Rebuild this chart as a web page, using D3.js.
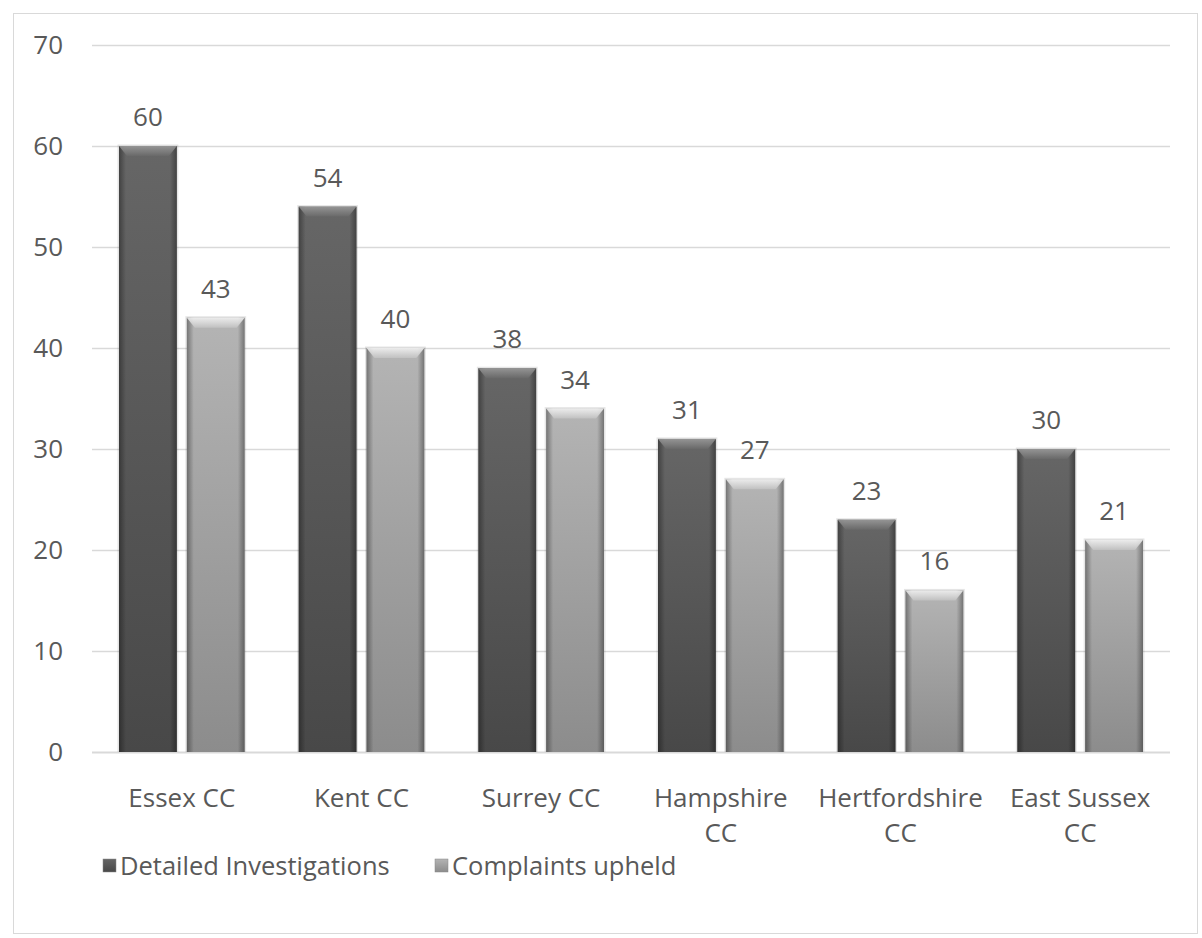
<!DOCTYPE html>
<html><head><meta charset="utf-8">
<script src="https://cdn.jsdelivr.net/npm/d3@7"></script>
<style>body{margin:0;background:#fff}text{font-family:"Open Sans",sans-serif;fill:#595959}</style>
</head><body><svg id="c" width="1202" height="938"></svg>
<script>
const categories = [["Essex CC"],["Kent CC"],["Surrey CC"],["Hampshire","CC"],["Hertfordshire","CC"],["East Sussex","CC"]];
const seriesNames = ["Detailed Investigations","Complaints upheld"];
const detailed = [60,54,38,31,23,30];
const upheld = [43,40,34,27,16,21];
const yTicks = [0,10,20,30,40,50,60,70];

const svg = d3.select("#c");
const defs = svg.append("defs");
function grad(id, top, bot){
  const g = defs.append("linearGradient").attr("id",id).attr("x1",0).attr("y1",0).attr("x2",0).attr("y2",1);
  g.append("stop").attr("offset","0%").attr("stop-color",top);
  g.append("stop").attr("offset","100%").attr("stop-color",bot);
}
grad("gd","#666","#484848");
grad("gl","#b4b4b4","#8c8c8c");
grad("bd","#a0a0a0","#6a6a6a");
grad("bl","#fafafa","#c4c4c4");
const hs = defs.append("linearGradient").attr("id","hs").attr("x1",0).attr("y1",0).attr("x2",1).attr("y2",0);
[[0,0.35],[0.12,0],[0.88,0],[1,0.35]].forEach(([o,a])=>hs.append("stop").attr("offset",o).attr("stop-color","#000").attr("stop-opacity",a));

svg.append("rect").attr("x",13.5).attr("y",13.5).attr("width",1184).attr("height",920)
  .attr("fill","#fff").attr("stroke","#d9d9d9");

const x0 = d3.scaleBand().domain(d3.range(categories.length)).range([92,1170]);
const x1 = d3.scaleBand().domain([0,1]).range([27,x0.bandwidth()-27]).paddingInner(0.147);
const y = d3.scaleLinear().domain([0,70]).range([752,45]);

const gridG = svg.append("g");
yTicks.forEach(t=>{
  gridG.append("line").attr("x1",92).attr("x2",1170).attr("y1",Math.round(y(t))+0.5).attr("y2",Math.round(y(t))+0.5)
    .attr("stroke","#d9d9d9").attr("stroke-width",t===0?2:1.3);
  gridG.append("text").attr("x",63).attr("y",y(t)).attr("dy","0.36em").attr("text-anchor","end")
    .attr("font-size",26).text(t);
});

const series = [detailed, upheld];
const fills = ["url(#gd)","url(#gl)"];
const tops = ["url(#bd)","url(#bl)"];
series.forEach((vals,si)=>{
  const g = svg.append("g");
  vals.forEach((v,i)=>{
    const bx = x0(i)+x1(si), bw = x1.bandwidth(), by = y(v), bh = y(0)-y(v);
    g.append("rect").attr("x",bx-1.5).attr("y",by-1.5).attr("width",bw+3).attr("height",bh+1.5).attr("fill","#000").attr("opacity",0.1);
    g.append("rect").attr("x",bx).attr("y",by).attr("width",bw).attr("height",bh).attr("fill",fills[si]);
    g.append("rect").attr("x",bx).attr("y",by).attr("width",bw).attr("height",bh).attr("fill","url(#hs)");
    g.append("path").attr("d",`M${bx},${by}L${bx+bw},${by}L${bx+bw-8},${by+10}L${bx+8},${by+10}Z`)
      .attr("fill",tops[si]).attr("opacity",0.8);
    g.append("text").attr("x",bx+bw/2).attr("y",by-20).attr("text-anchor","middle").attr("font-size",26).text(v);
  });
});

categories.forEach((lines,i)=>{
  const t = svg.append("text").attr("text-anchor","middle").attr("font-size",26);
  lines.forEach((l,j)=>{
    t.append("tspan").attr("x",x0(i)+x0.bandwidth()/2).attr("y",807+j*35).text(l);
  });
});

const legX = [103,435];
seriesNames.forEach((n,i)=>{
  svg.append("rect").attr("x",legX[i]).attr("y",859).attr("width",13).attr("height",13).attr("fill",fills[i]).attr("stroke","#888").attr("stroke-width",0.5);
  svg.append("text").attr("x",legX[i]+17).attr("y",866).attr("dy","0.36em").attr("font-size",25.5).text(n);
});
</script></body></html>
